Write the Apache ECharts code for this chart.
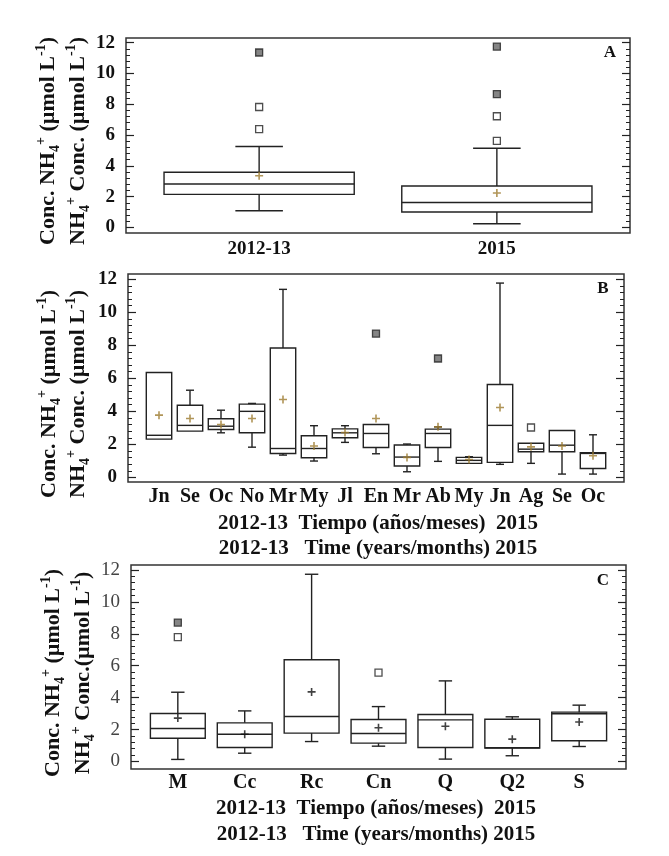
<!DOCTYPE html>
<html>
<head>
<meta charset="utf-8">
<title>Conc. NH4+</title>
<script src="https://cdn.jsdelivr.net/npm/echarts@6.0.0/dist/echarts.min.js"></script>
<style>
  html, body { margin: 0; padding: 0; background: #fff; }
  #main { width: 669px; height: 856px; }
</style>
</head>
<body>
<div id="main"></div>
<script>
// A: por año
var catsA = ['2012-13', '2015'];
var lowA  = [1.08, 0.24];
var q1A   = [2.15, 1.00];
var medA  = [2.82, 1.62];
var q3A   = [3.58, 2.69];
var highA = [5.26, 5.14];
var meanA = [3.36, 2.24];
// [posicion, valor, extremo(1) o no(0)]
var outA  = [[1, 6.38, 0], [1, 7.82, 0], [1, 11.36, 1], [2, 5.62, 0], [2, 7.22, 0], [2, 8.66, 1], [2, 11.74, 1]];

// B: por mes
var catsB = ['Jn', 'Se', 'Oc', 'No', 'Mr', 'My', 'Jl', 'En', 'Mr', 'Ab', 'My', 'Jn', 'Ag', 'Se', 'Oc'];
var lowB  = [2.32, 2.78, 2.70, 1.83, 1.35, 0.99, 2.12, 1.43, 0.34, 0.97, 0.85, 0.79, 0.85, 0.20, 0.20];
var q1B   = [2.32, 2.80, 2.90, 2.70, 1.45, 1.19, 2.40, 1.81, 0.69, 1.81, 0.85, 0.91, 1.55, 1.55, 0.54];
var medB  = [2.55, 3.15, 3.10, 4.00, 1.75, 1.75, 2.70, 2.66, 1.23, 2.66, 1.03, 3.15, 1.71, 1.95, 1.45];
var q3B   = [6.35, 4.37, 3.55, 4.44, 7.84, 2.52, 2.94, 3.20, 1.96, 2.92, 1.21, 5.63, 2.07, 2.84, 1.49];
var highB = [6.35, 5.28, 4.07, 4.48, 11.39, 3.13, 3.13, 3.20, 2.02, 3.06, 1.25, 11.77, 2.07, 2.84, 2.58];
var meanB = [3.77, 3.57, 3.20, 3.57, 4.72, 1.90, 2.72, 3.57, 1.21, 3.06, 1.08, 4.23, 1.85, 1.90, 1.31];
var outB  = [[8, 8.71, 1], [10, 7.20, 1], [13, 3.02, 0]];

// C: por estacion
var catsC = ['M', 'Cc', 'Rc', 'Cn', 'Q', 'Q2', 'S'];
var lowC  = [0.13, 0.52, 1.25, 0.96, 0.15, 0.36, 0.94];
var q1C   = [1.46, 0.88, 1.78, 1.15, 0.88, 0.84, 1.30];
var medC  = [2.07, 1.71, 2.82, 1.75, 2.61, 0.86, 2.99];
var q3C   = [3.01, 2.42, 6.37, 2.63, 2.94, 2.65, 3.09];
var highC = [4.34, 3.17, 11.73, 3.44, 5.05, 2.80, 3.53];
var meanC = [2.72, 1.71, 4.36, 2.11, 2.21, 1.40, 2.47];
var outC  = [[1, 8.70, 1], [1, 7.79, 0], [4, 5.57, 0]];

var yTicks = [0, 2, 4, 6, 8, 10, 12];
var yMinor = [];
for (var t = 0; t <= 30; t++) yMinor.push(+(t * 0.4).toFixed(1));

var FONT = 'Liberation Serif';
var INK = '#222';

function boxData(low, q1, med, q3, high) {
  return low.map(function (v, i) { return [i + 1, v, q1[i], med[i], q3[i], high[i]]; });
}
function meanData(vals) {
  return vals.map(function (v, i) { return [i + 1, v]; });
}
function outData(list) {
  return list.map(function (o) {
    return { value: [o[0], o[1]], itemStyle: { color: o[2] ? '#666' : '#fff' } };
  });
}

function renderBox(halfBox, halfCap) {
  return function (params, api) {
    var x = api.value(0);
    var yLow = api.coord([x, api.value(1)])[1];
    var yQ1 = api.coord([x, api.value(2)])[1];
    var yMed = api.coord([x, api.value(3)])[1];
    var yQ3 = api.coord([x, api.value(4)])[1];
    var yHigh = api.coord([x, api.value(5)])[1];
    var cx = api.coord([x, 0])[0];
    var xl = api.coord([x - halfBox, 0])[0];
    var xr = api.coord([x + halfBox, 0])[0];
    var cl = api.coord([x - halfCap, 0])[0];
    var cr = api.coord([x + halfCap, 0])[0];
    var st = { stroke: INK, lineWidth: 1.4 };
    var kids = [
      { type: 'rect', shape: { x: xl, y: yQ3, width: xr - xl, height: yQ1 - yQ3 }, style: { stroke: INK, lineWidth: 1.4, fill: 'transparent' } },
      { type: 'line', shape: { x1: xl, y1: yMed, x2: xr, y2: yMed }, style: st }
    ];
    if (yQ3 - yHigh > 0.5) {
      kids.push({ type: 'line', shape: { x1: cx, y1: yQ3, x2: cx, y2: yHigh }, style: st });
      kids.push({ type: 'line', shape: { x1: cl, y1: yHigh, x2: cr, y2: yHigh }, style: st });
    }
    if (yLow - yQ1 > 0.5) {
      kids.push({ type: 'line', shape: { x1: cx, y1: yQ1, x2: cx, y2: yLow }, style: st });
      kids.push({ type: 'line', shape: { x1: cl, y1: yLow, x2: cr, y2: yLow }, style: st });
    }
    return { type: 'group', children: kids };
  };
}

function xAxis(g, cats, min, max, margin, size) {
  return {
    type: 'value', gridIndex: g, min: min, max: max,
    splitLine: { show: false }, axisLine: { show: false }, axisTick: { show: false },
    axisLabel: {
      customValues: cats.map(function (c, i) { return i + 1; }),
      formatter: function (v) { return cats[Math.round(v) - 1]; },
      margin: margin, color: '#111', fontFamily: FONT, fontSize: size, fontWeight: 'bold'
    }
  };
}

function yAxes(g, min, max, labelColor, labelWeight) {
  var list = [];
  ['left', 'right'].forEach(function (side) {
    list.push({
      type: 'value', gridIndex: g, position: side, min: min, max: max,
      splitLine: { show: false }, axisLine: { show: false },
      axisTick: { inside: true, length: 8, customValues: yTicks, lineStyle: { color: INK, width: 1.2 } },
      axisLabel: side === 'left'
        ? { customValues: yTicks, margin: 11, color: labelColor, fontFamily: FONT, fontSize: 19, fontWeight: labelWeight }
        : { show: false }
    });
    list.push({
      type: 'value', gridIndex: g, position: side, min: min, max: max,
      splitLine: { show: false }, axisLine: { show: false },
      axisTick: { inside: true, length: 4, customValues: yMinor, lineStyle: { color: INK, width: 1 } },
      axisLabel: { show: false }
    });
  });
  return list;
}

function panelSeries(g, low, q1, med, q3, high, mean, outs, halfBox, halfCap, meanColor) {
  return [
    {
      type: 'custom', xAxisIndex: g, yAxisIndex: 4 * g, silent: true,
      data: boxData(low, q1, med, q3, high),
      encode: { x: 0, y: [1, 2, 3, 4, 5] },
      renderItem: renderBox(halfBox, halfCap)
    },
    {
      type: 'scatter', xAxisIndex: g, yAxisIndex: 4 * g, silent: true,
      symbol: 'path://M4,0h2v4h4v2h-4v4h-2v-4h-4v-2h4z', symbolSize: 8,
      itemStyle: { color: meanColor },
      data: meanData(mean)
    },
    {
      type: 'scatter', xAxisIndex: g, yAxisIndex: 4 * g, silent: true,
      symbol: 'rect', symbolSize: 7,
      itemStyle: { borderColor: INK, borderWidth: 1.3 },
      data: outData(outs)
    }
  ];
}

var frame = { show: true, borderColor: '#333', borderWidth: 1.5, backgroundColor: 'transparent' };

var rich = {
  sub: { fontSize: 14, fontWeight: 'bold', fontFamily: FONT, fill: '#111', verticalAlign: 'bottom', lineHeight: 14 },
  sup: { fontSize: 14, fontWeight: 'bold', fontFamily: FONT, fill: '#111', verticalAlign: 'top', lineHeight: 14 }
};
function vText(txt, x, y) {
  return {
    type: 'text', x: x, y: y, rotation: Math.PI / 2,
    style: {
      text: txt, rich: rich, fill: '#111', fontSize: 22, fontWeight: 'bold', fontFamily: FONT,
      lineHeight: 28, align: 'center', verticalAlign: 'middle'
    }
  };
}
function hText(txt, x, y, size) {
  return {
    type: 'text', x: x, y: y,
    style: { text: txt, fill: '#111', fontSize: size, fontWeight: 'bold', fontFamily: FONT, align: 'center', verticalAlign: 'middle' }
  };
}

var line1 = 'Conc. NH{sub|4}{sup|+} (µmol L{sup|-1})';
var line2 = 'NH{sub|4}{sup|+} Conc. (µmol L{sup|-1})';
var line2c = 'NH{sub|4}{sup|+} Conc.(µmol L{sup|-1})';
var esLine = '2012-13  Tiempo (años/meses)  2015';
var enLine = '2012-13   Time (years/months) 2015';

var chart = echarts.init(document.getElementById('main'), null, { renderer: 'canvas' });

var option = {
  backgroundColor: '#fff',
  animation: false,
  grid: [
    Object.assign({ left: 126, top: 38, width: 504, height: 195 }, frame),
    Object.assign({ left: 128, top: 274, width: 496, height: 208 }, frame),
    Object.assign({ left: 131, top: 565, width: 495, height: 204 }, frame)
  ],
  xAxis: [
    xAxis(0, catsA, 0.44, 2.56, 7, 19),
    xAxis(1, catsB, 0, 16, 5, 20),
    xAxis(2, catsC, 0.3, 7.7, 4, 20)
  ],
  yAxis: [].concat(
    yAxes(0, -0.36, 12.3, '#111', 'bold'),
    yAxes(1, -0.28, 12.32, '#111', 'bold'),
    yAxes(2, -0.47, 12.31, '#444', 'normal')
  ),
  series: [].concat(
    panelSeries(0, lowA, q1A, medA, q3A, highA, meanA, outA, 0.4, 0.1, '#9c7a2e'),
    panelSeries(1, lowB, q1B, medB, q3B, highB, meanB, outB, 0.41, 0.13, '#9c7a2e'),
    panelSeries(2, lowC, q1C, medC, q3C, highC, meanC, outC, 0.41, 0.1, '#111')
  ),
  graphic: [
    vText(line1, 48, 141), vText(line2, 78, 141),
    vText(line1, 49, 394), vText(line2, 78, 394),
    vText(line1, 53, 673), vText(line2c, 83, 673),
    hText('A', 610, 53, 17), hText('B', 603, 289, 17), hText('C', 603, 581, 17),
    hText(esLine, 378, 524, 21), hText(enLine, 378, 549, 21),
    hText(esLine, 376, 809, 21), hText(enLine, 376, 835, 21)
  ]
};

chart.setOption(option);
</script>
</body>
</html>
